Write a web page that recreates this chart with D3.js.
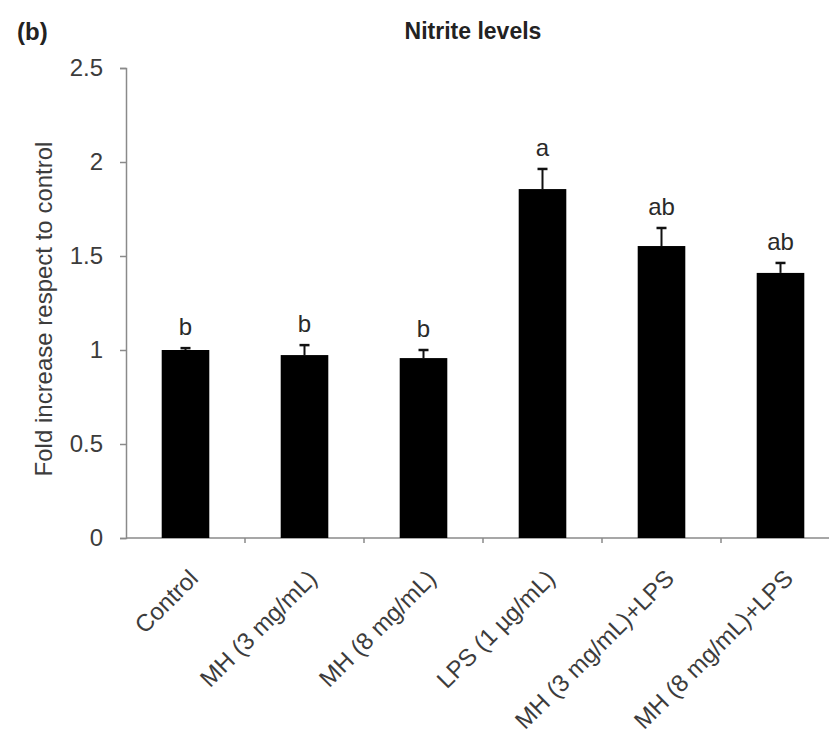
<!DOCTYPE html>
<html>
<head>
<meta charset="utf-8">
<script src="https://cdnjs.cloudflare.com/ajax/libs/d3/7.8.5/d3.min.js"></script>
<style>
  body { margin: 0; background: #fff; }
  svg { font-family: "Liberation Sans", Arial, sans-serif; }
</style>
</head>
<body>
<div id="chart-area"></div>
<script>
// data
var groups = ['Control', 'MH (3 mg/mL)', 'MH (8 mg/mL)', 'LPS (1 \u00b5g/mL)', 'MH (3 mg/mL)+LPS', 'MH (8 mg/mL)+LPS'];
var means = [1.0, 0.973, 0.957, 1.856, 1.553, 1.41];
var errs = [0.01, 0.053, 0.043, 0.107, 0.096, 0.053];
var letters = ['b', 'b', 'b', 'a', 'ab', 'ab'];
var yTicks = [0, 0.5, 1, 1.5, 2, 2.5];

var def = {
    width: 829,
    height: 736,
    left: 126,
    right: 840,
    top: 68,
    bottom: 538,
    fs: 24,
    axisColor: '#8a8a8a',
    textColor: '#3c3c3c'
};

var svg = d3.select('#chart-area').append('svg')
    .attr('width', def.width)
    .attr('height', def.height);

var x = d3.scaleBand()
    .domain(groups)
    .range([def.left, def.right])
    .padding(0);

var y = d3.scaleLinear()
    .domain([0, 2.5])
    .range([def.bottom, def.top]);

var barW = x.bandwidth() * 0.4;

// titles
svg.append('text')
    .attr('x', 17).attr('y', 40)
    .attr('font-size', '24px').attr('font-weight', 'bold')
    .attr('fill', '#222')
    .text('(b)');

svg.append('text')
    .attr('x', 473).attr('y', 39)
    .attr('text-anchor', 'middle')
    .attr('font-size', '23px').attr('font-weight', 'bold')
    .attr('fill', '#222')
    .text('Nitrite levels');

// y label
svg.append('text')
    .attr('transform', 'translate(52,' + ((def.top + def.bottom) / 2 + 6) + ') rotate(-90)')
    .attr('text-anchor', 'middle')
    .attr('font-size', def.fs + 'px')
    .attr('fill', def.textColor)
    .text('Fold increase respect to control');

// y axis
var yAxis = d3.axisLeft(y)
    .tickValues(yTicks)
    .tickFormat(function (d) { return String(d); })
    .tickSize(6)
    .tickPadding(17);

var yLeg = svg.append('g')
    .attr('transform', 'translate(' + def.left + ',0)')
    .call(yAxis);
yLeg.select('.domain').attr('stroke', def.axisColor).attr('stroke-width', 1.5);
yLeg.selectAll('.tick line').attr('stroke', def.axisColor).attr('stroke-width', 1.5);
yLeg.selectAll('.tick text')
    .attr('font-size', def.fs + 'px')
    .attr('fill', def.textColor)
    .attr('font-family', '"Liberation Sans", Arial, sans-serif');

// x axis line + ticks at band boundaries
svg.append('line')
    .attr('x1', def.left).attr('x2', def.right)
    .attr('y1', y(0)).attr('y2', y(0))
    .attr('stroke', def.axisColor).attr('stroke-width', 1.5);

var bounds = groups.slice(1).map(function (g) { return x(g); });
svg.selectAll('.xtick')
    .data(bounds)
    .enter().append('line')
    .attr('class', 'xtick')
    .attr('x1', function (d) { return d; })
    .attr('x2', function (d) { return d; })
    .attr('y1', y(0)).attr('y2', y(0) + 5)
    .attr('stroke', def.axisColor).attr('stroke-width', 1.5);

// x labels, rotated
svg.selectAll('.xlab')
    .data(groups)
    .enter().append('text')
    .attr('class', 'xlab')
    .attr('transform', function (d) {
        return 'translate(' + (x(d) + x.bandwidth() / 2 + 14) + ',' + (y(0) + 42) + ') rotate(-45)';
    })
    .attr('text-anchor', 'end')
    .attr('font-size', def.fs + 'px')
    .attr('fill', def.textColor)
    .text(function (d) { return d; });

// bars
var data = groups.map(function (g, i) {
    return { name: g, mean: means[i], err: errs[i], letter: letters[i] };
});

svg.selectAll('rect.bar')
    .data(data)
    .enter().append('rect')
    .attr('class', 'bar')
    .attr('x', function (d) { return x(d.name) + (x.bandwidth() - barW) / 2; })
    .attr('y', function (d) { return y(d.mean); })
    .attr('width', barW)
    .attr('height', function (d) { return y(0) - y(d.mean); })
    .attr('fill', '#000');

// error bars (upper only)
svg.selectAll('line.err')
    .data(data)
    .enter().append('line')
    .attr('class', 'err')
    .attr('x1', function (d) { return x(d.name) + x.bandwidth() / 2; })
    .attr('x2', function (d) { return x(d.name) + x.bandwidth() / 2; })
    .attr('y1', function (d) { return y(d.mean); })
    .attr('y2', function (d) { return y(d.mean + d.err); })
    .attr('stroke', '#111').attr('stroke-width', 2);

svg.selectAll('line.cap')
    .data(data)
    .enter().append('line')
    .attr('class', 'cap')
    .attr('x1', function (d) { return x(d.name) + x.bandwidth() / 2 - 5; })
    .attr('x2', function (d) { return x(d.name) + x.bandwidth() / 2 + 5; })
    .attr('y1', function (d) { return y(d.mean + d.err); })
    .attr('y2', function (d) { return y(d.mean + d.err); })
    .attr('stroke', '#111').attr('stroke-width', 2.5);

// significance letters
svg.selectAll('text.sig')
    .data(data)
    .enter().append('text')
    .attr('class', 'sig')
    .attr('x', function (d) { return x(d.name) + x.bandwidth() / 2; })
    .attr('y', function (d) { return y(d.mean + d.err) - 13; })
    .attr('text-anchor', 'middle')
    .attr('font-size', def.fs + 'px')
    .attr('fill', '#2a2a2a')
    .text(function (d) { return d.letter; });
</script>
</body>
</html>
